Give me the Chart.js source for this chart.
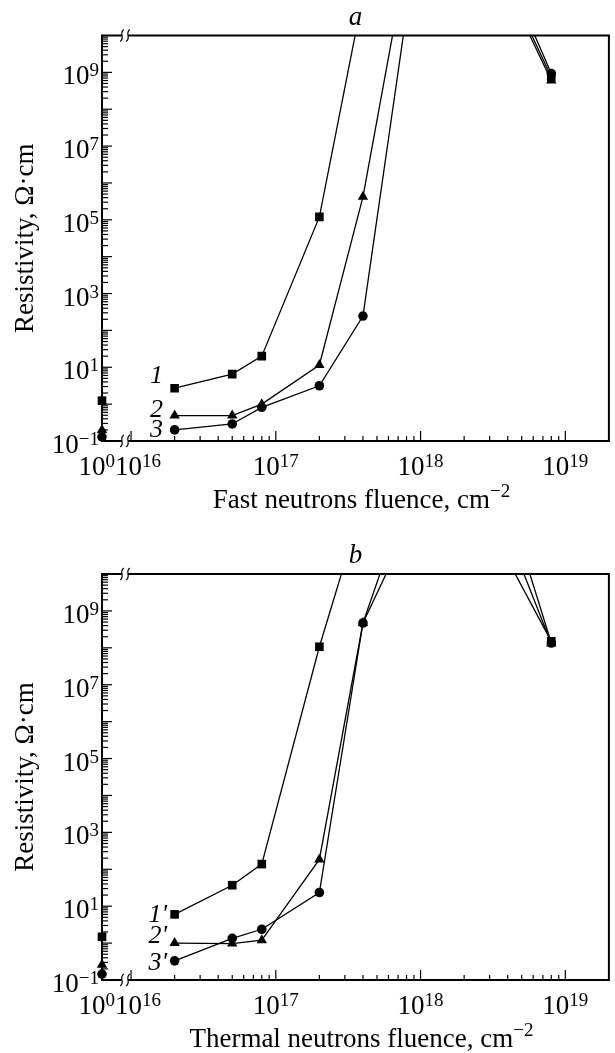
<!DOCTYPE html>
<html lang="en">
<head>
  <meta charset="UTF-8" />
  <title>Resistivity vs neutron fluence</title>
  <script src="https://cdn.jsdelivr.net/npm/chart.js"></script>
  <style>
    body {
      margin: 0;
      background: #fff;
      overflow: hidden;
    }
    .panel {
      position: relative;
      width: 615px;
    }
    #panelA { height: 540px; }
    #panelB { height: 513px; }
  </style>
</head>
<body>
  <div class="panel" id="panelA"><canvas id="chartA"></canvas></div>
  <div class="panel" id="panelB"><canvas id="chartB"></canvas></div>

  <script>
    // a: fast neutrons. Points above 1e10 run off the top of the frame.
    const fastFluence1 = [2e16, 5e16, 8e16, 2e17, 4e17, 4e18, 8e18];
    const fastRho1 = [2.7, 6.5, 20, 1.2e5, 1.2e11, 2.5e11, 7.5e8];
    const fastFluence2 = [2e16, 5e16, 8e16, 2e17, 4e17, 8e17, 4e18, 8e18];
    const fastRho2 = [0.49, 0.49, 1.0, 11.5, 4.2e5, 1.2e12, 1.8e11, 6.0e8];
    const fastFluence3 = [2e16, 5e16, 8e16, 2e17, 4e17, 8e17, 4e18, 8e18];
    const fastRho3 = [0.2, 0.29, 0.82, 3.15, 245, 4e10, 4.9e11, 9.3e8];
    const fastRho0 = [1.24, 0.2, 0.13]; // unirradiated samples, plotted at 10^0

    // b: thermal neutrons
    const thermFluence1 = [2e16, 5e16, 8e16, 2e17, 4e17, 4e18, 8e18];
    const thermRho1 = [6.0, 37, 138, 1.07e8, 8.5e11, 2.4e10, 1.5e8];
    const thermFluence2 = [2e16, 5e16, 8e16, 2e17, 4e17, 8e17, 4e18, 8e18];
    const thermRho2 = [1.0, 0.97, 1.2, 185, 4.7e8, 1.2e12, 1.3e11, 1.3e8];
    const thermFluence3 = [2e16, 5e16, 8e16, 2e17, 4e17, 8e17, 4e18, 8e18];
    const thermRho3 = [0.33, 1.35, 2.37, 23.5, 4.7e8, 1.5e11, 8.5e11, 1.35e8];
    const thermRho0 = [1.48, 0.26, 0.145];

    const yTickExps = [-1, 1, 3, 5, 7, 9];
    const xTickExps = [16, 17, 18, 19];
    const zeroFluence = 1; // 10^0, left of the axis break

    const FONT = '"Liberation Serif", "Times New Roman", serif';
    const markers = [
      { pointStyle: 'rect', pointRadius: 6.1 },
      { pointStyle: 'triangle', pointRadius: 6.0 },
      { pointStyle: 'circle', pointRadius: 4.8 }
    ];

    function drawPow(ctx, base, exp, x, y, align, size, supSize, rise) {
      ctx.font = `${size}px ${FONT}`;
      const wb = ctx.measureText(base).width;
      ctx.font = `${supSize}px ${FONT}`;
      const we = ctx.measureText(exp).width;
      let left = x;
      if (align === 'center') left = x - (wb + we) / 2;
      if (align === 'right') left = x - wb - we;
      ctx.textAlign = 'left';
      ctx.textBaseline = 'alphabetic';
      ctx.font = `${size}px ${FONT}`;
      ctx.fillText(base, left, y);
      ctx.font = `${supSize}px ${FONT}`;
      ctx.fillText(exp, left + wb, y - rise);
    }

    function sup(n) {
      return String(n).replace('-', '\u2212');
    }

    function line(ctx, x1, y1, x2, y2) {
      ctx.beginPath();
      ctx.moveTo(x1, y1);
      ctx.lineTo(x2, y2);
      ctx.stroke();
    }

    function breakMark(ctx, cx, cy) {
      ctx.beginPath();
      ctx.moveTo(cx - 1.8, cy + 6);
      ctx.bezierCurveTo(cx + 3.5, cy + 2, cx - 3.5, cy - 2, cx + 1.8, cy - 6);
      ctx.stroke();
    }

    function makeChart(canvasId, panel) {
      const datasets = [];
      panel.series.forEach((s, i) => {
        datasets.push({
          data: s.x.map((f, k) => ({ x: f, y: s.y[k] })),
          xAxisID: 'x',
          showLine: true,
          borderColor: '#000',
          borderWidth: 1.3,
          backgroundColor: '#000',
          pointBorderWidth: 0,
          ...markers[i]
        });
        datasets.push({
          data: [{ x: zeroFluence, y: panel.rho0[i] }],
          xAxisID: 'x0',
          showLine: false,
          clip: false,
          backgroundColor: '#000',
          pointBorderWidth: 0,
          ...markers[i]
        });
      });

      const axesPlugin = {
        id: 'paperAxes' + canvasId,
        afterDraw(chart) {
          const { ctx, chartArea: a } = chart;
          const xs = chart.scales.x;
          const x0 = chart.scales.x0;
          const ys = chart.scales.y;
          ctx.save();
          ctx.fillStyle = '#000';
          ctx.strokeStyle = '#000';

          // y ticks, inward
          ctx.lineWidth = 1.2;
          for (let e = -1; e <= 9; e++) {
            for (let m = 1; m <= 9; m++) {
              const py = ys.getPixelForValue(m * Math.pow(10, e));
              line(ctx, a.left, py, a.left + (m === 1 ? 10 : 6), py);
            }
          }
          // x ticks, inward
          for (let e = 16; e <= 18; e++) {
            for (let m = 1; m <= 9; m++) {
              const px = xs.getPixelForValue(m * Math.pow(10, e));
              line(ctx, px, a.bottom, px, a.bottom - (m === 1 ? 10 : 5));
            }
          }
          const p19 = xs.getPixelForValue(1e19);
          line(ctx, p19, a.bottom, p19, a.bottom - 10);

          // frame
          ctx.lineWidth = 2;
          ctx.strokeRect(a.left, a.top, a.right - a.left, a.bottom - a.top);

          // axis break marks top and bottom
          const b1 = a.left + 20, b2 = a.left + 26;
          [a.top, a.bottom].forEach(yy => {
            ctx.fillStyle = '#fff';
            ctx.fillRect(b1, yy - 2, b2 - b1, 4);
            ctx.lineWidth = 1.2;
            breakMark(ctx, b1, yy);
            breakMark(ctx, b2, yy);
          });
          ctx.fillStyle = '#000';

          // y tick labels
          yTickExps.forEach(e => {
            const py = ys.getPixelForValue(Math.pow(10, e));
            drawPow(ctx, '10', sup(e), a.left - 3, py + 12, 'right', 27, 19, 8);
          });
          // x tick labels
          const ly = a.bottom + 34;
          drawPow(ctx, '10', '0', x0.getPixelForValue(zeroFluence) + 13, ly, 'right', 27, 19, 8);
          xTickExps.forEach(e => {
            const px = xs.getPixelForValue(Math.pow(10, e));
            if (e === 16) {
              drawPow(ctx, '10', sup(e), px - 16, ly, 'left', 27, 19, 8);
            } else {
              drawPow(ctx, '10', sup(e), px, ly, 'center', 27, 19, 8);
            }
          });

          // axis titles
          const cx = (a.left + a.right) / 2;
          drawPow(ctx, panel.xTitle, '\u22122', cx + 6, a.bottom + 67, 'center', 27, 19, 11);
          ctx.save();
          ctx.translate(33, (a.top + a.bottom) / 2);
          ctx.rotate(-Math.PI / 2);
          ctx.font = `27px ${FONT}`;
          ctx.textAlign = 'center';
          ctx.textBaseline = 'alphabetic';
          ctx.fillText('Resistivity, \u03A9\u00B7cm', 0, 0);
          ctx.restore();

          // panel letter
          ctx.font = `italic 27px ${FONT}`;
          ctx.textAlign = 'center';
          ctx.fillText(panel.letter, cx, a.top - 11);

          // curve numbers
          ctx.font = `italic 26px ${FONT}`;
          ctx.textAlign = 'right';
          panel.labels.forEach(l => ctx.fillText(l.text, l.x, l.y));
          ctx.restore();
        }
      };

      return new Chart(document.getElementById(canvasId), {
        type: 'scatter',
        data: { datasets },
        options: {
          responsive: true,
          maintainAspectRatio: false,
          animation: false,
          layout: {
            padding: { left: 102, right: 3, top: panel.padTop, bottom: panel.padBottom }
          },
          plugins: {
            legend: { display: false },
            tooltip: { enabled: false }
          },
          scales: {
            x: { type: 'logarithmic', min: 6.3e15, max: 2e19, display: false },
            x0: { type: 'linear', axis: 'x', position: 'bottom', min: zeroFluence, max: 2, display: false },
            y: { type: 'logarithmic', min: 0.1, max: 1e10, display: false }
          }
        },
        plugins: [axesPlugin]
      });
    }

    makeChart('chartA', {
      letter: 'a',
      xTitle: 'Fast neutrons fluence, cm',
      padTop: 35.5,
      padBottom: 99,
      rho0: fastRho0,
      series: [
        { x: fastFluence1, y: fastRho1 },
        { x: fastFluence2, y: fastRho2 },
        { x: fastFluence3, y: fastRho3 }
      ],
      labels: [
        { text: '1', x: 163, y: 383 },
        { text: '2', x: 163, y: 417 },
        { text: '3', x: 163, y: 437 }
      ]
    });

    makeChart('chartB', {
      letter: 'b',
      xTitle: 'Thermal neutrons fluence, cm',
      padTop: 34,
      padBottom: 73,
      rho0: thermRho0,
      series: [
        { x: thermFluence1, y: thermRho1 },
        { x: thermFluence2, y: thermRho2 },
        { x: thermFluence3, y: thermRho3 }
      ],
      labels: [
        { text: "1'", x: 167, y: 382 },
        { text: "2'", x: 167, y: 403 },
        { text: "3'", x: 167, y: 430 }
      ]
    });
  </script>
</body>
</html>
